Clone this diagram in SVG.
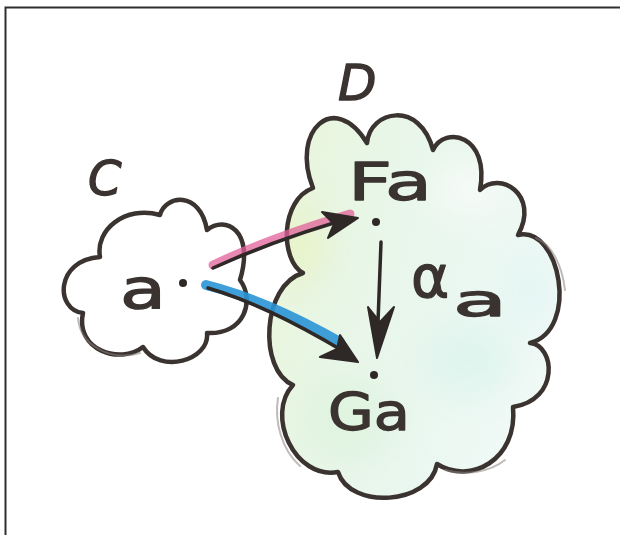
<svg xmlns="http://www.w3.org/2000/svg" width="620" height="535" viewBox="0 0 620 535">
  <style>
    .outline { fill: none; stroke: #3a3330; stroke-width: 4.5; stroke-linejoin: round; stroke-linecap: round; }
    .ghost { fill: none; stroke: #8a8480; stroke-width: 2; stroke-linecap: round; opacity: 0.55; }
    .lbl { font-family: "DejaVu Sans", "Liberation Sans", sans-serif; fill: #3a3330; stroke: #3a3330; stroke-width: 1.3; stroke-linejoin: round; }
    .wire { fill: none; stroke: #2e2826; stroke-width: 3.5; stroke-linecap: round; }
    .head { fill: #2e2826; stroke: #2e2826; stroke-width: 2; stroke-linejoin: round; }
    .dot { fill: #2e2826; }
  </style>
  <defs>
    <linearGradient id="dfill" x1="0" y1="0" x2="1" y2="0.3">
      <stop offset="0" stop-color="#eaf5d8"/>
      <stop offset="0.35" stop-color="#e8f6e6"/>
      <stop offset="0.7" stop-color="#eaf7f0"/>
      <stop offset="1" stop-color="#f0f9f6"/>
    </linearGradient>
    <filter id="blur" x="-50%" y="-50%" width="200%" height="200%">
      <feGaussianBlur stdDeviation="18"/>
    </filter>
    <clipPath id="dclip">
      <path d="M 313 188 C 290 130, 335 90, 367 143 C 370 110, 420 100, 433 150 C 445 125, 490 135, 480 190 C 500 170, 540 195, 518 235 C 560 225, 580 330, 530 343 C 555 345, 560 400, 513 407 C 518 460, 470 485, 437 464 C 430 505, 350 510, 338 472 C 295 480, 265 415, 293 385 C 258 370, 262 285, 303 273 C 280 260, 280 200, 313 188 Z"/>
    </clipPath>
  </defs>

  <rect x="0" y="0" width="620" height="535" fill="#ffffff"/>
  <path d="M 5.5 535 L 5.5 7.5 L 620 7.5" fill="none" stroke="#2f2f2f" stroke-width="2"/>

  <g id="cloud-D">
    <path d="M 313 188 C 290 130, 335 90, 367 143 C 370 110, 420 100, 433 150 C 445 125, 490 135, 480 190 C 500 170, 540 195, 518 235 C 560 225, 580 330, 530 343 C 555 345, 560 400, 513 407 C 518 460, 470 485, 437 464 C 430 505, 350 510, 338 472 C 295 480, 265 415, 293 385 C 258 370, 262 285, 303 273 C 280 260, 280 200, 313 188 Z" fill="url(#dfill)"/>
    <g clip-path="url(#dclip)" filter="url(#blur)">
      <ellipse cx="300" cy="245" rx="22" ry="35" fill="#e6f2b8" opacity="0.7"/>
      <ellipse cx="350" cy="420" rx="40" ry="40" fill="#dcf2dc" opacity="0.7"/>
      <ellipse cx="470" cy="360" rx="45" ry="35" fill="#daf3ec" opacity="0.7"/>
      <ellipse cx="470" cy="190" rx="35" ry="25" fill="#f8fcfa" opacity="0.9"/>
      <ellipse cx="530" cy="290" rx="25" ry="40" fill="#e0f5f3" opacity="0.8"/>
    </g>
    <path class="outline" d="M 313 188 C 290 130, 335 90, 367 143 C 370 110, 420 100, 433 150 C 445 125, 490 135, 480 190 C 500 170, 540 195, 518 235 C 560 225, 580 330, 530 343 C 555 345, 560 400, 513 407 C 518 460, 470 485, 437 464 C 430 505, 350 510, 338 472 C 295 480, 265 415, 293 385 C 258 370, 262 285, 303 273 C 280 260, 280 200, 313 188 Z"/>
    <path class="ghost" d="M 536 238 C 552 245, 562 265, 565 290"/>
    <path class="ghost" d="M 278 398 C 274 422, 282 450, 300 466"/>
    <path class="ghost" d="M 445 470 C 465 476, 490 472, 505 460"/>
    <text class="lbl" x="338" y="100" font-size="50" font-style="italic">D</text>
    <text class="lbl" x="348" y="200" font-size="52" textLength="84" lengthAdjust="spacingAndGlyphs">Fa</text>
    <text class="lbl" x="328" y="430" font-size="52" textLength="82" lengthAdjust="spacingAndGlyphs">Ga</text>
    <text class="lbl" x="411" y="297" font-size="58">α</text>
    <text class="lbl" x="453" y="316" font-size="44" textLength="54" lengthAdjust="spacingAndGlyphs">a</text>
    <circle class="dot" cx="376" cy="222" r="4"/>
    <circle class="dot" cx="374" cy="375" r="4"/>
  </g>

  <g id="cloud-C">
    <path d="M 100 257 C 95 230, 125 205, 160 215 C 165 195, 200 190, 207 230 C 225 215, 255 230, 240 280 C 255 300, 245 335, 207 333 C 210 360, 160 375, 143 347 C 120 365, 75 350, 83 313 C 55 310, 55 260, 100 257 Z" fill="#ffffff"/>
    <path class="outline" d="M 100 257 C 95 230, 125 205, 160 215 C 165 195, 200 190, 207 230 C 225 215, 255 230, 240 280 C 255 300, 245 335, 207 333 C 210 360, 160 375, 143 347 C 120 365, 75 350, 83 313 C 55 310, 55 260, 100 257 Z"/>
    <path class="ghost" d="M 78 318 C 80 345, 110 362, 140 353"/>
    <text class="lbl" x="88" y="195" font-size="48" font-style="italic">C</text>
    <text class="lbl" x="120" y="308" font-size="56" textLength="46" lengthAdjust="spacingAndGlyphs">a</text>
    <circle class="dot" cx="183" cy="283" r="4"/>
  </g>

  <g id="connectors">
    <path id="edge-F" d="M 213 265 Q 270 238 350 214" fill="none" stroke="#e0609a" stroke-width="9" stroke-linecap="round" opacity="0.75"/>
    <path d="M 213 268 Q 270 242 340 221" class="wire"/>
    <path class="head" d="M 358 218 L 322 212 L 334 224 L 328 238 Z"/>

    <path id="edge-G" d="M 206 285 Q 266 300 340 342" fill="none" stroke="#2a95d6" stroke-width="10" stroke-linecap="round" opacity="0.9"/>
    <path d="M 208 288 Q 266 305 343 351" class="wire"/>
    <path class="head" d="M 358 362 L 340 335 L 337 349 L 320 357 Z"/>

    <path id="edge-alpha" d="M 381 242 L 378 322" class="wire"/>
    <path class="head" d="M 377 358 L 394 307 L 380 322 L 368 307 Z"/>
  </g>
</svg>
